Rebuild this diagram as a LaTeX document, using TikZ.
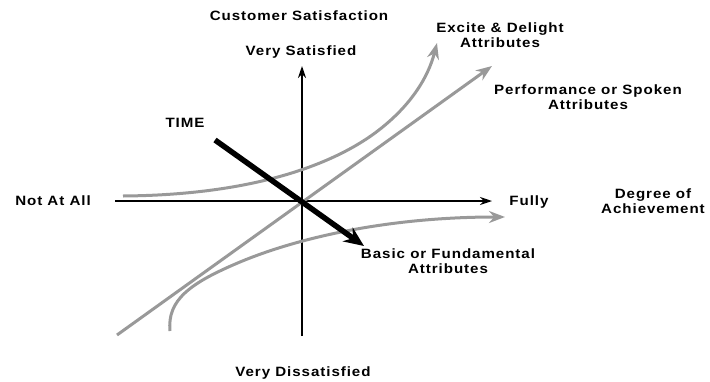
\documentclass[tikz,border=0pt]{standalone}
\usepackage{fontspec}
\setmainfont{Liberation Sans}[LetterSpace=7, FakeStretch=1.12]
\usetikzlibrary{arrows.meta}
\begin{document}
\begin{tikzpicture}[x=1pt,y=-1pt,
  lbl/.style={font=\bfseries\fontsize{13.5}{15}\selectfont, align=center, inner sep=0pt},
  axis/.style={line width=1.6pt, -{Stealth[length=12pt,width=8pt]}},
  curve/.style={draw=black!40, line width=3pt, -{Stealth[length=16pt,width=12pt]}},
  timearrow/.style={line width=5.5pt, -{Stealth[length=20pt,width=17pt]}}]
\useasboundingbox (0,0) rectangle (710,381);
% axes
\coordinate (xl) at (115,201);
\coordinate (xr) at (492,201);
\coordinate (yb) at (302,336);
\coordinate (yt) at (302,66);
\draw[axis] (xl) -- (xr);
\draw[axis] (yb) -- (yt);
% curves
\coordinate (e0) at (123,196);
\coordinate (e1) at (437,43);
\draw[curve] (e0) .. controls (250,195) and (330,166) .. (375,133) .. controls (410,107) and (428,78) .. (e1);
\coordinate (p0) at (117,335);
\coordinate (p1) at (492,66);
\draw[curve] (p0) -- (p1);
\coordinate (b0) at (170,331);
\coordinate (b1) at (505,217);
\draw[curve] (b0) .. controls (167,300) and (190,283) .. (240,262) .. controls (300,237) and (390,217) .. (b1);
% time arrow
\coordinate (t0) at (215,140);
\coordinate (t1) at (364,246);
\draw[timearrow] (t0) -- (t1);
% labels
\node[lbl] (cs) at (299,16) {Customer Satisfaction};
\node[lbl] (vs) at (301,52) {Very Satisfied};
\node[lbl] (time) at (185,123) {TIME};
\node[lbl] (naa) at (53,201) {Not At All};
\node[lbl] (fully) at (529,202) {Fully};
\node[lbl] (doa) at (653,201) {Degree of\\Achievement};
\node[lbl] (ed) at (500,35) {Excite \& Delight\\Attributes};
\node[lbl] (ps) at (588,97) {Performance or Spoken\\Attributes};
\node[lbl] (bf) at (448,261) {Basic or Fundamental\\Attributes};
\node[lbl] (vd) at (303,373) {Very Dissatisfied};
\end{tikzpicture}
\end{document}
